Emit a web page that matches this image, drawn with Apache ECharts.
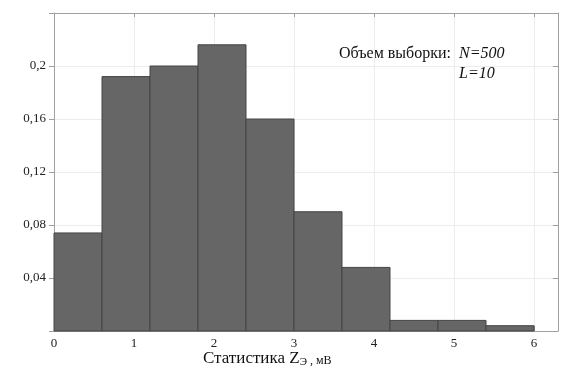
<!DOCTYPE html>
<html>
<head>
<meta charset="utf-8">
<script src="https://cdn.jsdelivr.net/npm/echarts@6/dist/echarts.min.js"></script>
<style>
  html, body { margin: 0; padding: 0; background: #fff; }
  #main { width: 575px; height: 376px; }
</style>
</head>
<body>
<div id="main"></div>
<script>
// границы интервалов (ширина 0.6 мВ, L=10)
let binStarts = [0, 0.6, 1.2, 1.8, 2.4, 3.0, 3.6, 4.2, 4.8, 5.4];
let binEnds = [0.6, 1.2, 1.8, 2.4, 3.0, 3.6, 4.2, 4.8, 5.4, 6.0];
// относительные частоты
let freqs = [0.074, 0.192, 0.2, 0.216, 0.16, 0.09, 0.048, 0.008, 0.008, 0.004];

let xTicks = [0, 1, 2, 3, 4, 5, 6];
let yTicks = [0.04, 0.08, 0.12, 0.16, 0.2];

let data = [];
binStarts.forEach((s, i) => {
  data.push([s, binEnds[i], freqs[i]]);
});

let font = '"Liberation Serif", "DejaVu Serif", serif';
let axisColor = '#a0a0a0';

let myChart = echarts.init(document.getElementById('main'));
myChart.setOption({
  backgroundColor: '#fff',
  animation: false,
  textStyle: { fontFamily: font },
  grid: { left: 54, right: 17, top: 13, bottom: 45 },
  xAxis: [{
    type: 'value',
    position: 'bottom',
    min: 0, max: 6.3, interval: 1,
    axisLine: { lineStyle: { color: axisColor } },
    axisTick: { inside: true, length: 5, lineStyle: { color: axisColor } },
    axisLabel: {
      color: '#222', fontSize: 13, margin: 6, fontFamily: font,
      showMaxLabel: false,
      formatter: function (v) { return xTicks.indexOf(v) >= 0 ? String(v) : ''; }
    },
    splitLine: { show: true, lineStyle: { color: '#ececec' } }
  }, {
    type: 'value',
    position: 'top',
    min: 0, max: 6.3, interval: 1,
    axisLine: { onZero: false, lineStyle: { color: axisColor } },
    axisTick: { inside: true, length: 4, lineStyle: { color: axisColor } },
    axisLabel: { show: false },
    splitLine: { show: false }
  }],
  yAxis: [{
    type: 'value',
    position: 'left',
    min: 0, max: 0.24, interval: 0.04,
    axisLine: { show: true, lineStyle: { color: axisColor } },
    axisTick: { show: true, inside: false, length: 5, lineStyle: { color: axisColor } },
    axisLabel: {
      color: '#222', fontSize: 13, margin: 8, fontFamily: font,
      formatter: function (v) {
        let r = +v.toFixed(2);
        return yTicks.indexOf(r) >= 0 ? String(r).replace('.', ',') : '';
      }
    },
    splitLine: { show: true, lineStyle: { color: '#ececec' } }
  }, {
    type: 'value',
    position: 'right',
    min: 0, max: 0.24, interval: 0.04,
    axisLine: { show: true, onZero: false, lineStyle: { color: axisColor } },
    axisTick: { show: true, inside: true, length: 5, lineStyle: { color: axisColor } },
    axisLabel: { show: false },
    splitLine: { show: false }
  }],
  graphic: [{
    type: 'text',
    left: 203, top: 350,
    style: {
      text: '{a|Статистика Z}{s|Э}{b| , мВ}',
      fill: '#111',
      rich: {
        a: { fontSize: 17, fontFamily: font, fill: '#111', verticalAlign: 'bottom', height: 20 },
        s: { fontSize: 11, fontFamily: font, fill: '#111', verticalAlign: 'bottom', height: 12 },
        b: { fontSize: 12, fontFamily: font, fill: '#111', verticalAlign: 'bottom', height: 15 }
      }
    }
  }, {
    type: 'text',
    left: 339, top: 46,
    style: { text: 'Объем выборки:', fontSize: 16, fontFamily: font, fill: '#111' }
  }, {
    type: 'text',
    left: 459, top: 46,
    style: { text: 'N=500', fontSize: 16, fontStyle: 'italic', fontFamily: font, fill: '#111' }
  }, {
    type: 'text',
    left: 459, top: 66,
    style: { text: 'L=10', fontSize: 16, fontStyle: 'italic', fontFamily: font, fill: '#111' }
  }],
  series: [{
    name: 'Частота',
    type: 'custom',
    xAxisIndex: 0,
    yAxisIndex: 0,
    encode: { x: [0, 1], y: 2 },
    data: data,
    renderItem: function (params, api) {
      let p0 = api.coord([api.value(0), api.value(2)]);
      let p1 = api.coord([api.value(1), 0]);
      return {
        type: 'rect',
        shape: { x: p0[0], y: p0[1], width: p1[0] - p0[0], height: p1[1] - p0[1] },
        style: { fill: '#666666', stroke: '#444444', lineWidth: 1 }
      };
    }
  }]
});
</script>
</body>
</html>
